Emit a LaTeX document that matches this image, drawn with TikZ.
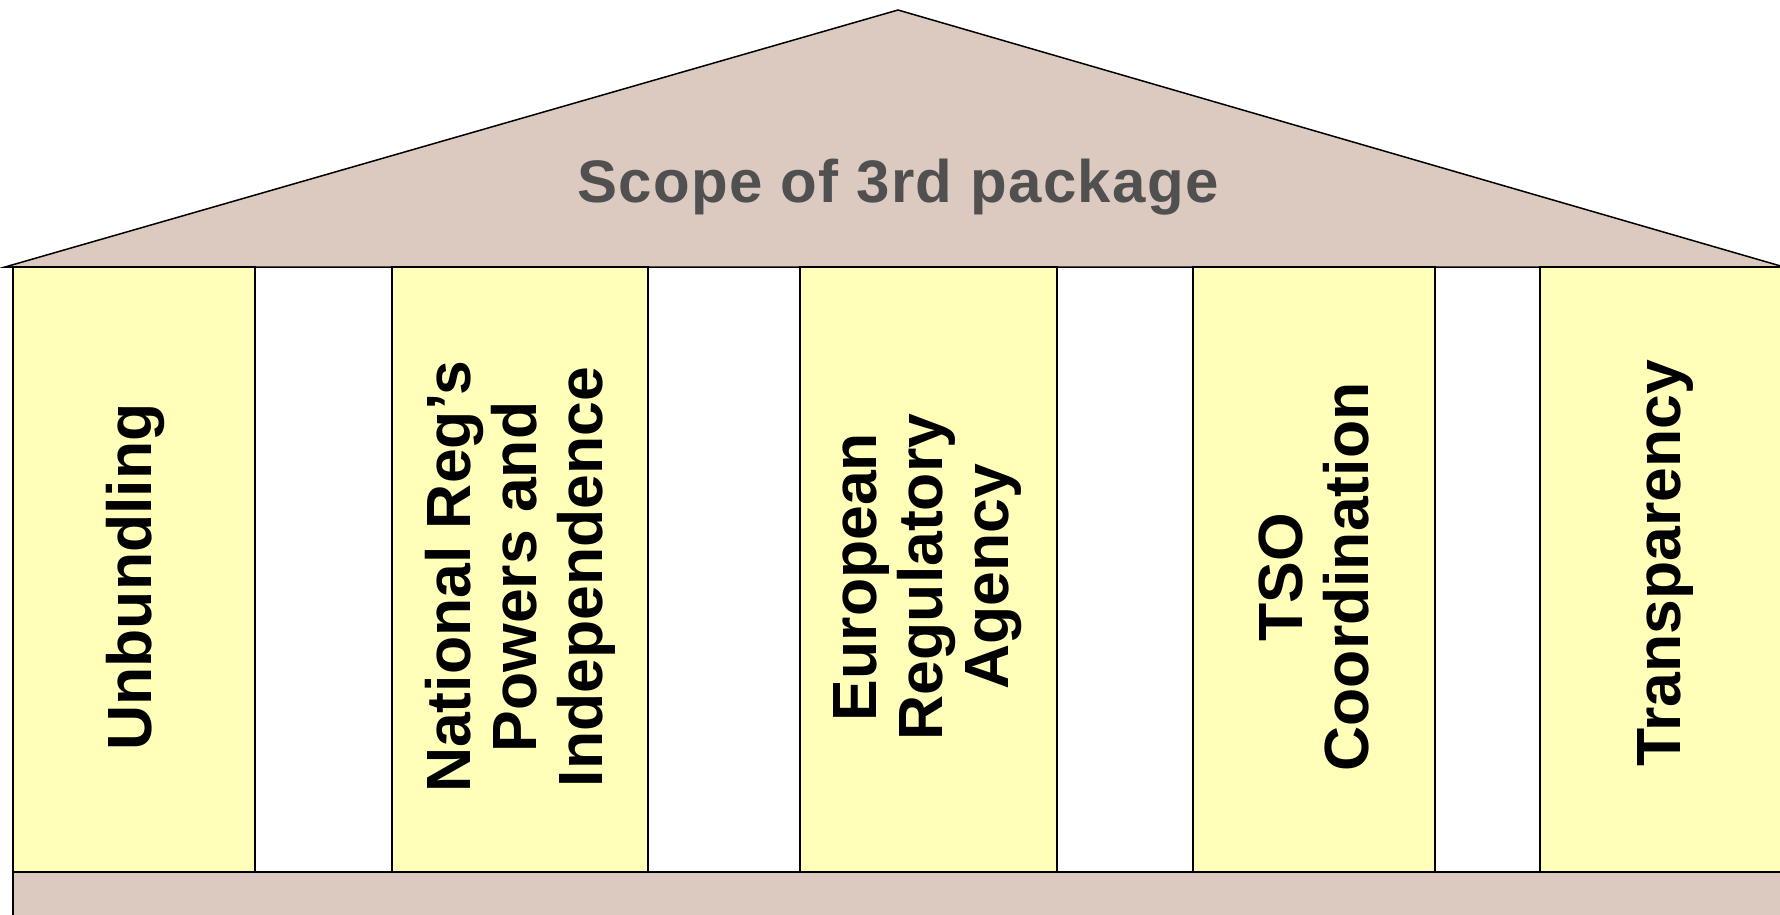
\documentclass[tikz,border=0pt]{standalone}
\usepackage{fontspec}
\setmainfont{Liberation Sans}
\newfontfamily\roofface[LetterSpace=2.2]{Liberation Sans}
\definecolor{roofbrown}{RGB}{220,202,192}
\definecolor{pillaryellow}{RGB}{255,255,185}
\definecolor{rooftext}{RGB}{80,80,80}
\begin{document}
\begin{tikzpicture}[x=1pt,y=-1pt]
    \tikzstyle{outline}=[draw,line width=1.5pt,line join=miter]
    \tikzstyle{pillar}=[outline,fill=pillaryellow]
    \tikzstyle{pillar text}=[rotate=90,align=center,font=\bfseries\fontsize{62.5}{66}\selectfont]
    \useasboundingbox (0,0) rectangle (1780,915);
    % roof and base
    \draw[outline,fill=roofbrown] (5,267) -- (898,10) -- (1784,267) -- cycle;
    \draw[outline,fill=roofbrown] (13,925) -- (13,872) -- (1790,872) -- (1790,925);
    % pillars
    \draw[pillar] (13,267) rectangle (255,872);
    \draw[pillar] (392,267) rectangle (648,872);
    \draw[pillar] (800,267) rectangle (1057,872);
    \draw[pillar] (1193,267) rectangle (1435,872);
    \draw[pillar] (1540,267) rectangle (1790,872);
    \node[text=rooftext,font=\roofface\bfseries\fontsize{60}{66}\selectfont,anchor=base] (scope) at (898,202) {Scope of 3rd package};
    \node[pillar text] (unbundling) at (135,577) {Unbundling};
    \node[pillar text] (national) at (520,577) {National Reg’s\\Powers and\\Independence};
    \node[pillar text] (agency) at (928,577) {European\\Regulatory\\Agency};
    \node[pillar text] (tso) at (1314,577) {TSO\\Coordination};
    \node[pillar text] (transparency) at (1665,563) {Transparency};
\end{tikzpicture}
\end{document}
